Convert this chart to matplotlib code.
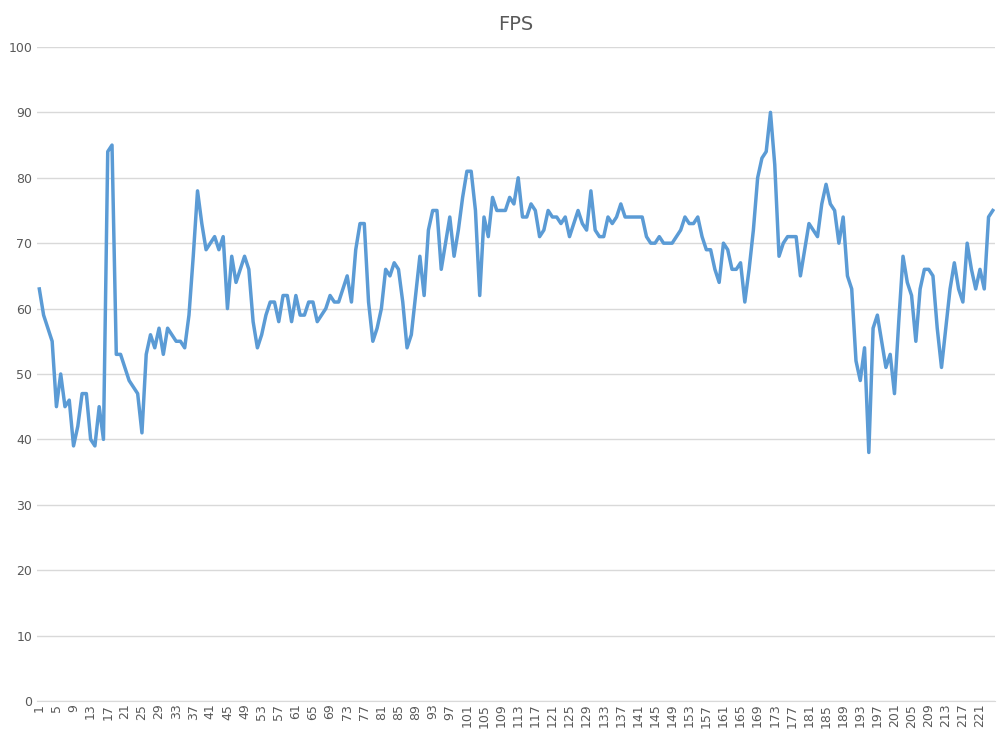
import matplotlib.pyplot as plt
import numpy as np

fps = [63, 59, 57, 55, 45, 50, 45, 46, 39, 42, 47, 47, 40, 39, 45, 40, 84, 85, 53, 53,
       51, 49, 48, 47, 41, 53, 56, 54, 57, 53, 57, 56, 55, 55, 54, 59, 68, 78, 73, 69,
       70, 71, 69, 71, 60, 68, 64, 66, 68, 66, 58, 54, 56, 59, 61, 61, 58, 62, 62, 58,
       62, 59, 59, 61, 61, 58, 59, 60, 62, 61, 61, 63, 65, 61, 69, 73, 73, 61, 55, 57,
       60, 66, 65, 67, 66, 61, 54, 56, 62, 68, 62, 72, 75, 75, 66, 70, 74, 68, 72, 77,
       81, 81, 75, 62, 74, 71, 77, 75, 75, 75, 77, 76, 80, 74, 74, 76, 75, 71, 72, 75,
       74, 74, 73, 74, 71, 73, 75, 73, 72, 78, 72, 71, 71, 74, 73, 74, 76, 74, 74, 74,
       74, 74, 71, 70, 70, 71, 70, 70, 70, 71, 72, 74, 73, 73, 74, 71, 69, 69, 66, 64,
       70, 69, 66, 66, 67, 61, 66, 72, 80, 83, 84, 90, 82, 68, 70, 71, 71, 71, 65, 69,
       73, 72, 71, 76, 79, 76, 75, 70, 74, 65, 63, 52, 49, 54, 38, 57, 59, 55, 51, 53,
       47, 58, 68, 64, 62, 55, 63, 66, 66, 65, 57, 51, 57, 63, 67, 63, 61, 70, 66, 63,
       66, 63, 74, 75]

x = np.arange(1, len(fps) + 1)

fig = plt.figure(figsize=(10.05, 7.34), dpi=100)
ax = fig.add_axes([0.037, 0.045, 0.953, 0.891])
ax.plot(x, fps, color="#5B9BD5", lw=2.5, solid_joinstyle="round")

ax.set_ylim(0, 100)
ax.set_yticks(range(0, 101, 10))
ax.set_xlim(0.5, len(fps) + 0.5)
ax.set_xticks(x[::4])
ax.set_xticklabels([str(v) for v in x[::4]], rotation=90, fontsize=9, color="#595959")
ax.tick_params(axis="y", labelsize=9, labelcolor="#595959", length=0)
ax.tick_params(axis="x", length=0, pad=2)
ax.grid(axis="y", color="#D9D9D9", lw=1)
ax.set_axisbelow(True)
for s in ["top", "right", "left"]:
    ax.spines[s].set_visible(False)
ax.spines["bottom"].set_color("#D9D9D9")
ax.set_title("FPS", fontsize=14, color="#595959", pad=12)

plt.savefig("out.png", dpi=100)
